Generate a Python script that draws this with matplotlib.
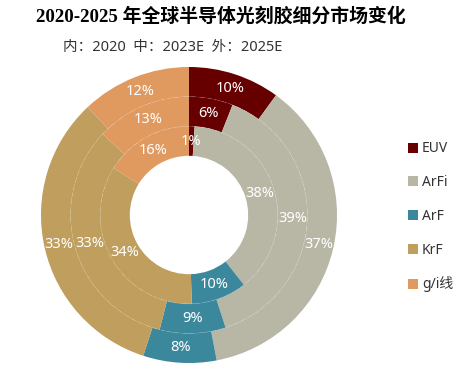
import numpy as np
import matplotlib
matplotlib.use("Agg")
import matplotlib.pyplot as plt
from matplotlib.patches import Circle, Patch


# -------------------------------------------------
# Data
# -------------------------------------------------

CATEGORIES = ["EUV", "ArFi", "ArF", "KrF", "g/i线"]

SHARE_2020 = [1, 38, 10, 34, 16]      # inner ring
SHARE_2023E = [6, 39, 9, 33, 13]      # middle ring
SHARE_2025E = [10, 37, 8, 33, 12]     # outer ring

COLORS = ["#660000", "#B8B7A6", "#3B889C", "#BF9E5E", "#E0995F"]

TITLE = "2020-2025 年全球半导体光刻胶细分市场变化"
SUBTITLE = "内：2020  中：2023E  外：2025E"

FONT = ["Noto Sans", "Noto Sans CJK SC"]


# -------------------------------------------------
# Figure
# -------------------------------------------------

W, H = 468, 378
fig = plt.figure(figsize=(W / 100, H / 100), dpi=100)

cx, cy, R = 189, 215, 148
ax = fig.add_axes([(cx - R) / W, (H - cy - R) / H, 2 * R / W, 2 * R / H])

rings = [
    (SHARE_2025E, 1.0),
    (SHARE_2023E, 0.8),
    (SHARE_2020, 0.6),
]
width = 0.2

for values, radius in rings:

    wedges, _ = ax.pie(
        values,
        radius=radius,
        colors=COLORS,
        startangle=90,
        counterclock=False,
        wedgeprops=dict(width=width, linewidth=0)
    )

    r_mid = radius - width / 2
    for w, v in zip(wedges, values):
        ang = np.deg2rad((w.theta1 + w.theta2) / 2)
        ax.text(
            r_mid * np.cos(ang), r_mid * np.sin(ang), f"{v}%",
            ha="center", va="center", color="white",
            fontsize=10.5, family=FONT
        )

# faint dashed ring borders
for r in (0.6, 0.8):
    ax.add_patch(Circle((0, 0), r, fill=False, ls=(0, (4, 4)),
                        lw=0.7, color="white", alpha=0.12))

ax.set_xlim(-1, 1)
ax.set_ylim(-1, 1)
ax.set_aspect("equal")
ax.axis("off")


# -------------------------------------------------
# Text
# -------------------------------------------------

fig.text(36 / W, 1 - 16 / H, TITLE, ha="left", va="center",
         fontsize=13.6, fontweight="bold",
         family=["Liberation Serif", "Noto Sans CJK SC"])

fig.text(63 / W, 1 - 47 / H, SUBTITLE, ha="left", va="center",
         fontsize=10.5, color="#333333", family=FONT)


# -------------------------------------------------
# Legend
# -------------------------------------------------

handles = [Patch(facecolor=c, edgecolor="none") for c in COLORS]

fig.legend(
    handles, CATEGORIES,
    loc="center left",
    bbox_to_anchor=(395 / W, 1 - 217 / H),
    frameon=False,
    handlelength=0.75,
    handleheight=0.75,
    handletextpad=0.3,
    labelspacing=1.35,
    prop=dict(family=FONT, size=10),
    labelcolor="#333333"
)

fig.savefig("out.png", dpi=100)
